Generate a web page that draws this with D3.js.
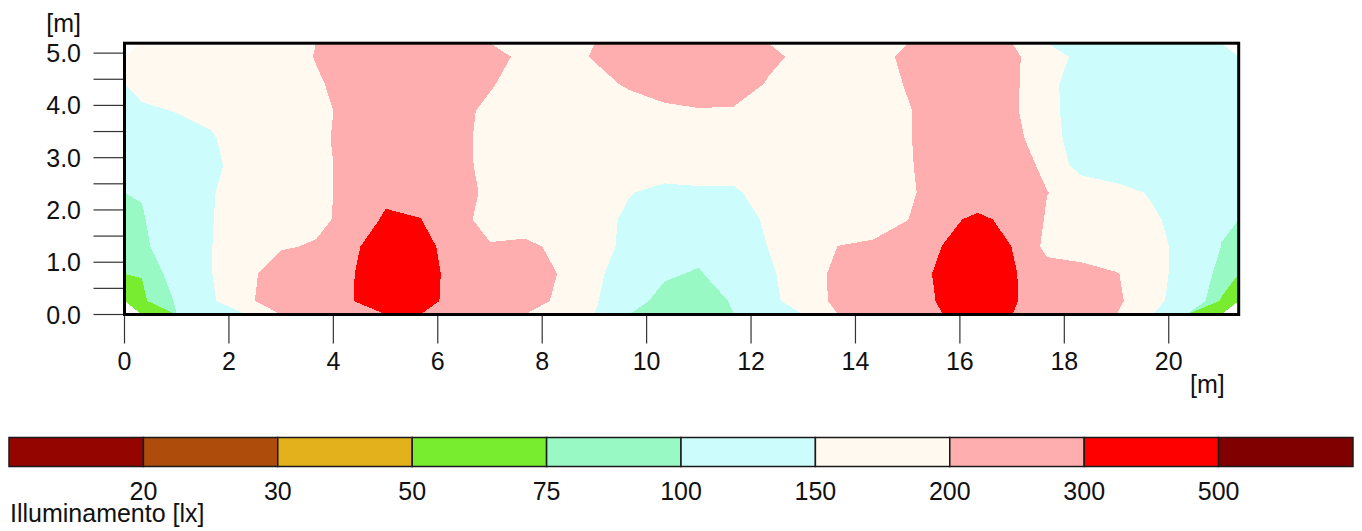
<!DOCTYPE html>
<html>
<head>
<meta charset="utf-8">
<title>Illuminamento</title>
<style>
  body { margin: 0; background: #fff; }
  svg text { font-family: "Liberation Sans", Arial, sans-serif; font-size: 25px; fill: #111; }
</style>
</head>
<body>
<svg id="svg" width="1362" height="531"></svg>
<script src="https://d3js.org/d3.v7.min.js"></script>
<script>
// room size in metres
const roomLength = 21.34;
const roomDepth = 5.19;

// isolux levels and the colour of the band that starts at each level
const luxLevels = [20, 30, 50, 75, 100, 150, 200, 300, 500];
const bandColors = ["#940500", "#ad4c0b", "#e3b11b", "#78ec2f", "#99f9c4",
                    "#ccfcfc", "#fff9ef", "#ffaeb0", "#ff0000", "#800000"];
const legendLabels = ["20", "30", "50", "75", "100", "150", "200", "300", "500"];

const xTicks = [0, 2, 4, 6, 8, 10, 12, 14, 16, 18, 20];
const yTicks = [0, 0.5, 1, 1.5, 2, 2.5, 3, 3.5, 4, 4.5, 5];

// illuminance [lx] on the calculation grid, rows from the back wall (top) to the front (bottom)
const luxGrid = [
  [165,168,170,175,180,202,222,235,240,230,215,190,188,202.4,215,225,230,225,210,189,180,190,206,220,220,208.5,173.4,136,130,128,128,130],
  [160,165,170,175,185,195,215,230,232,220,203,185,180,190,204.4,218,225,225,196,185,180,186,202.4,215,218,209,165.6,121,118,120,122,125],
  [145,151,155,165,180,192,208,220,222,210,193,180,178,180,185,192,197,195,188,180,175,180,198,215,220,208,166,122,115,115,115,118],
  [130,138,148,162,178,192,211,225,225,210,190,180,175,172,172,175,178,178,175,172,172,180,198,215,225,215,171.5,123,112,110,108,104],
  [122,132,145,160,175,190,210,225,228,210,191,178,170,165,162,160,160,162,165,168,172,182,197,215,228,225,188,128,115,108,104,101],
  [102,118,148,165,178,190,210,270,250,225,187.5,175,165,158,151,145,147,146,162,165,170,180,195,215,240,225,201,185,168,145,125,103],
  [97,125,149,165,180,192,210,320,303,215,185,172,165,158,146,135,130,135,155,165,172,183,199,275,320,275,192,180,172,158,130,103],
  [92,125,149.5,170,197,203,270,380,350,240,203,212,188,165,140,120,110,125,151,168,201,206,240,302,380,298,175,172,170,160,140,99.5],
  [76,114.7,149,190,220,240,285,420,370,250,240,225,198,160,125,104,97,120,143,175,212,235,255,320,420,310,240,220,202,175,123.6,92],
  [70,103,144,189,234,260,288,430,360,250,245,225,190,155,112,90.5,85,103,138,172,212,240,262,310,430,310,250,230,210,160,134,72]
];

const svg = d3.select("#svg");

const x = d3.scaleLinear().domain([0, roomLength]).range([124.5, 1238.7]);
const y = d3.scaleLinear().domain([0, roomDepth]).range([314.5, 43.2]);

// contour bands
const nx = luxGrid[0].length, ny = luxGrid.length;
const cellW = roomLength / nx, cellH = roomDepth / ny;
const bands = d3.contours().size([nx, ny]).thresholds(luxLevels)(luxGrid.flat());
const toPlot = d3.geoTransform({
  point: function(gx, gy) { this.stream.point(x(gx * cellW), y(roomDepth - gy * cellH)); }
});
const path = d3.geoPath(toPlot);

svg.append("g")
  .selectAll("path")
  .data(bands)
  .join("path")
  .attr("d", path)
  .attr("fill", function(d) { return bandColors[luxLevels.indexOf(d.value) + 1]; })
  .attr("shape-rendering", "crispEdges");

// y axis
const yAxis = svg.append("g");
yAxis.selectAll("line")
  .data(yTicks)
  .join("line")
  .attr("x1", x(0) - 31).attr("x2", x(0))
  .attr("y1", function(d) { return y(d); }).attr("y2", function(d) { return y(d); })
  .attr("stroke", "#333").attr("stroke-width", 1.2);
yAxis.selectAll("text")
  .data(yTicks.filter(function(d) { return d % 1 === 0; }))
  .join("text")
  .attr("x", 81)
  .attr("y", function(d) { return y(d); })
  .attr("dy", "0.36em")
  .attr("text-anchor", "end")
  .text(function(d) { return d.toFixed(1); });
svg.append("text").attr("x", 81).attr("y", 32).attr("text-anchor", "end").text("[m]");

// x axis
const xAxis = svg.append("g");
xAxis.selectAll("line")
  .data(xTicks)
  .join("line")
  .attr("x1", function(d) { return x(d); }).attr("x2", function(d) { return x(d); })
  .attr("y1", y(0)).attr("y2", y(0) + 29)
  .attr("stroke", "#333").attr("stroke-width", 1.2);
xAxis.selectAll("text")
  .data(xTicks)
  .join("text")
  .attr("x", function(d) { return x(d); })
  .attr("y", 370)
  .attr("text-anchor", "middle")
  .text(function(d) { return d; });
svg.append("text").attr("x", 1190).attr("y", 393).text("[m]");

// frame
svg.append("rect")
  .attr("x", x(0)).attr("y", y(roomDepth))
  .attr("width", x(roomLength) - x(0)).attr("height", y(0) - y(roomDepth))
  .attr("fill", "none").attr("stroke", "#000").attr("stroke-width", 3);

// legend
const legendX = d3.scaleLinear().domain([0, bandColors.length]).range([9, 1353]);
const legend = svg.append("g");
legend.selectAll("rect")
  .data(bandColors)
  .join("rect")
  .attr("x", function(d, i) { return legendX(i); })
  .attr("y", 437.5)
  .attr("width", legendX(1) - legendX(0))
  .attr("height", 29)
  .attr("fill", function(d) { return d; })
  .attr("stroke", "#1a1a1a").attr("stroke-width", 1.5);
legend.selectAll("text")
  .data(legendLabels)
  .join("text")
  .attr("x", function(d, i) { return legendX(i + 1); })
  .attr("y", 500)
  .attr("text-anchor", "middle")
  .text(function(d) { return d; });
svg.append("text").attr("x", 10).attr("y", 522).text("Illuminamento [lx]");
</script>
</body>
</html>
